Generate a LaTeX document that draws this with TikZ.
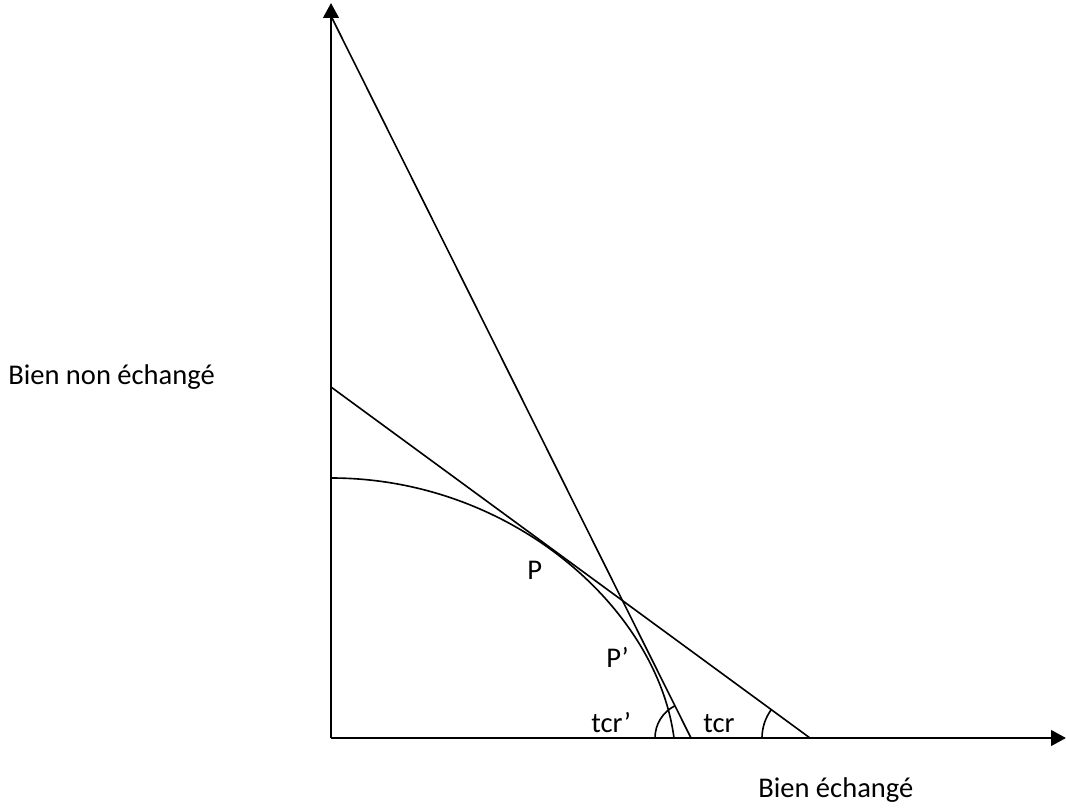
\documentclass[tikz,border=0pt]{standalone}
\usepackage{fontspec}
\setmainfont{Carlito}
\usepackage{tikz}
\usetikzlibrary{positioning,arrows.meta,calc}
\tikzset{
  axisline/.style={line width=1.8pt, -{Triangle[length=10.6pt,width=11pt]}},
  curveline/.style={line width=1.15pt},
  lbl/.style={font=\fontsize{20.3}{24}\selectfont, inner sep=0pt, anchor=base west}
}

\begin{document}
\begin{tikzpicture}[x=0.25cm, y=0.25cm]
    \useasboundingbox (-33.1,-7.0) rectangle (73.5,73.8);
    \coordinate (O) at (0,0);
    \coordinate (ytop) at (0,73.5);
    \coordinate (xend) at (73.5,0);
    \coordinate (A1) at (0,35.1);  \coordinate (B1) at (47.9,0);
    \coordinate (A2) at (0,72.2);  \coordinate (B2) at (36,0);
    \coordinate (C0) at (0,26);    \coordinate (C1) at (34.3,0);
    \draw[axisline] (O) -- (ytop);
    \draw[axisline] (O) -- (xend);
    \draw[curveline] (A1) -- (B1);
    \draw[curveline] (A2) -- (B2);
    \draw[curveline] (C0) .. controls (18,26) and (32.6,13) .. (C1);
    \draw[curveline] ($(B1)+(-4.8,0)$) arc (180:143.8:4.8);
    \draw[curveline] ($(B2)+(-3.6,0)$) arc (180:116.5:3.6);
    \node[lbl] (ynon) at (-32.3,35.4) {Bien non échangé};
    \node[lbl] (xech) at (42.7,-5.9) {Bien échangé};
    \node[lbl] (P) at (19.6,15.9) {P};
    \node[lbl] (Pp) at (27.5,7.1) {P’};
    \node[lbl] (tcrp) at (26.0,0.6) {tcr’};
    \node[lbl] (tcr) at (37.2,0.6) {tcr};
\end{tikzpicture}
\end{document}
